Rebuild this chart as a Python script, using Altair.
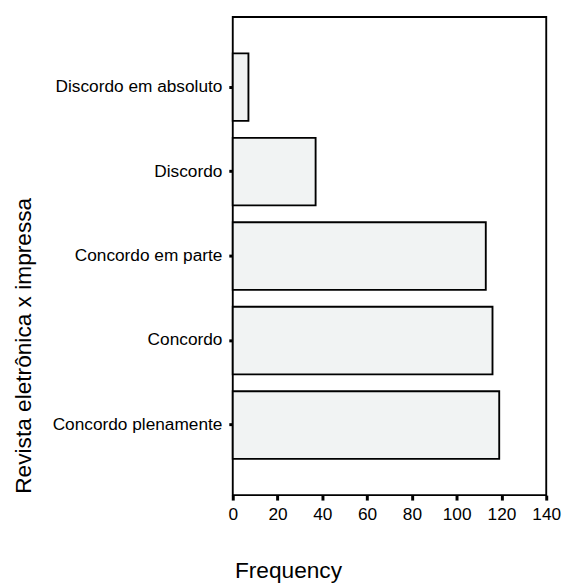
import altair as alt
import pandas as pd

categories = ["Discordo em absoluto", "Discordo", "Concordo em parte", "Concordo", "Concordo plenamente"]
frequency = [7, 37, 113, 116, 119]
x_ticks = [0, 20, 40, 60, 80, 100, 120, 140]

df = pd.DataFrame({"cat": categories, "freq": frequency})

FONT = "Liberation Sans"

chart = alt.Chart(df).mark_bar(
    fill="#f1f3f3", stroke="black", strokeWidth=1.9
).encode(
    y=alt.Y("cat:N", sort=categories,
            scale=alt.Scale(paddingInner=0.2, paddingOuter=0.43),
            axis=alt.Axis(title="Revista eletrônica x impressa", domain=False,
                          ticks=True, tickSize=4, tickWidth=3, tickColor="black",
                          labelPadding=7, labelFontSize=17.5, labelColor="black",
                          labelFont=FONT, labelLimit=400,
                          titleFont=FONT, titleFontSize=23, titleFontWeight="normal",
                          titleColor="black", titleAngle=-90, titleAlign="center",
                          titleBaseline="alphabetic", titleX=-205, titleY=333)),
    x=alt.X("freq:Q", scale=alt.Scale(domain=[0, 140], nice=False),
            axis=alt.Axis(title="Frequency", values=x_ticks, domain=False, grid=False,
                          tickSize=5, tickWidth=3, tickColor="black",
                          labelPadding=6, labelFontSize=17.5, labelColor="black",
                          labelFont=FONT, labelFlush=False,
                          titleFont=FONT, titleFontSize=23, titleFontWeight="normal",
                          titleColor="black", titleAlign="center",
                          titleBaseline="alphabetic", titleX=56, titleY=84)),
).properties(
    width=318, height=485,
    background="white",
    autosize=alt.AutoSizeParams(type="none"),
    padding={"left": 228, "top": 5, "right": 17, "bottom": 88},
).configure_view(
    stroke="black", strokeWidth=1.9, fill="white"
)

chart.save("out.html", embed_options={"renderer": "svg", "actions": False})
